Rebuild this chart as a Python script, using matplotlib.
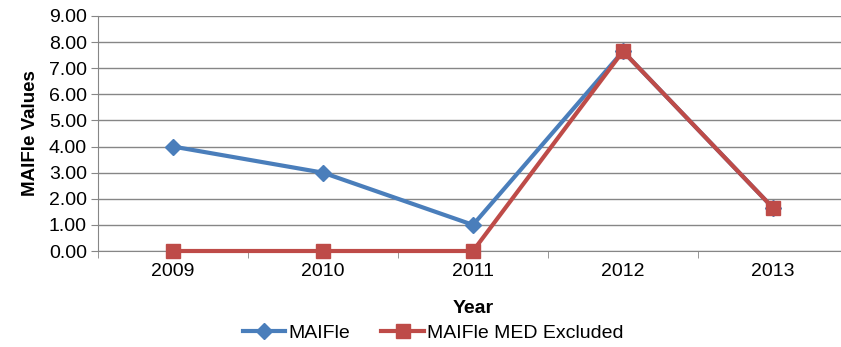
import matplotlib
matplotlib.use("Agg")
import matplotlib.pyplot as plt
import numpy as np

plt.rcParams['font.family'] = ['Liberation Sans', 'DejaVu Sans']

years = ['2009', '2010', '2011', '2012', '2013']
maifle = [4.00, 3.00, 1.00, 7.65, 1.65]
maifle_med_excl = [0.00, 0.00, 0.00, 7.65, 1.65]
yticks = [0, 1, 2, 3, 4, 5, 6, 7, 8, 9]

fig = plt.figure(figsize=(8.41, 3.47), dpi=100)
ax = fig.add_axes([98/841, 96/347, 750/841, 235/347])

x = np.arange(len(years))
blue = '#4a7ebb'
red = '#be4b48'
ax.plot(x, maifle, color=blue, lw=3, marker='D', ms=8, mec=blue, mfc=blue,
        label='MAIFle', zorder=3, clip_on=False)
ax.plot(x, maifle_med_excl, color=red, lw=3, marker='s', ms=10.5, mec=red, mfc=red,
        label='MAIFle MED Excluded', zorder=4, clip_on=False)

fs = 14
ax.set_xlim(-0.5, len(years) - 0.5)
ax.set_ylim(0, 9)
ax.set_yticks(yticks)
ax.set_yticklabels([f'{v:.2f}' for v in yticks], fontsize=fs)
ax.set_xticks(x)
ax.set_xticklabels(years, fontsize=fs)
ax.set_xticks(np.arange(-0.5, len(years)), minor=True)
ax.tick_params(axis='x', which='major', length=0, pad=9)
ax.tick_params(axis='x', which='minor', length=5, color='#868686', direction='out')
ax.tick_params(axis='y', length=5, color='#868686', direction='out', pad=3)

ax.grid(axis='y', color='#868686', lw=1)
ax.set_axisbelow(True)
for s in ['top', 'right']:
    ax.spines[s].set_visible(False)
ax.spines['left'].set_color('#868686')
ax.spines['bottom'].set_color('#868686')

ax.set_xlabel('Year', fontsize=fs, fontweight='bold', labelpad=14)
ax.set_ylabel('MAIFle Values', fontsize=13.5, fontweight='bold', labelpad=7)

leg = fig.legend(loc='center', bbox_to_anchor=(433/841, 1 - 333/347), ncol=2, frameon=False,
                 fontsize=fs, handlelength=2.2, columnspacing=1.6, handletextpad=0.15,
                 borderpad=0, borderaxespad=0)

fig.savefig('out.png', dpi=100)
